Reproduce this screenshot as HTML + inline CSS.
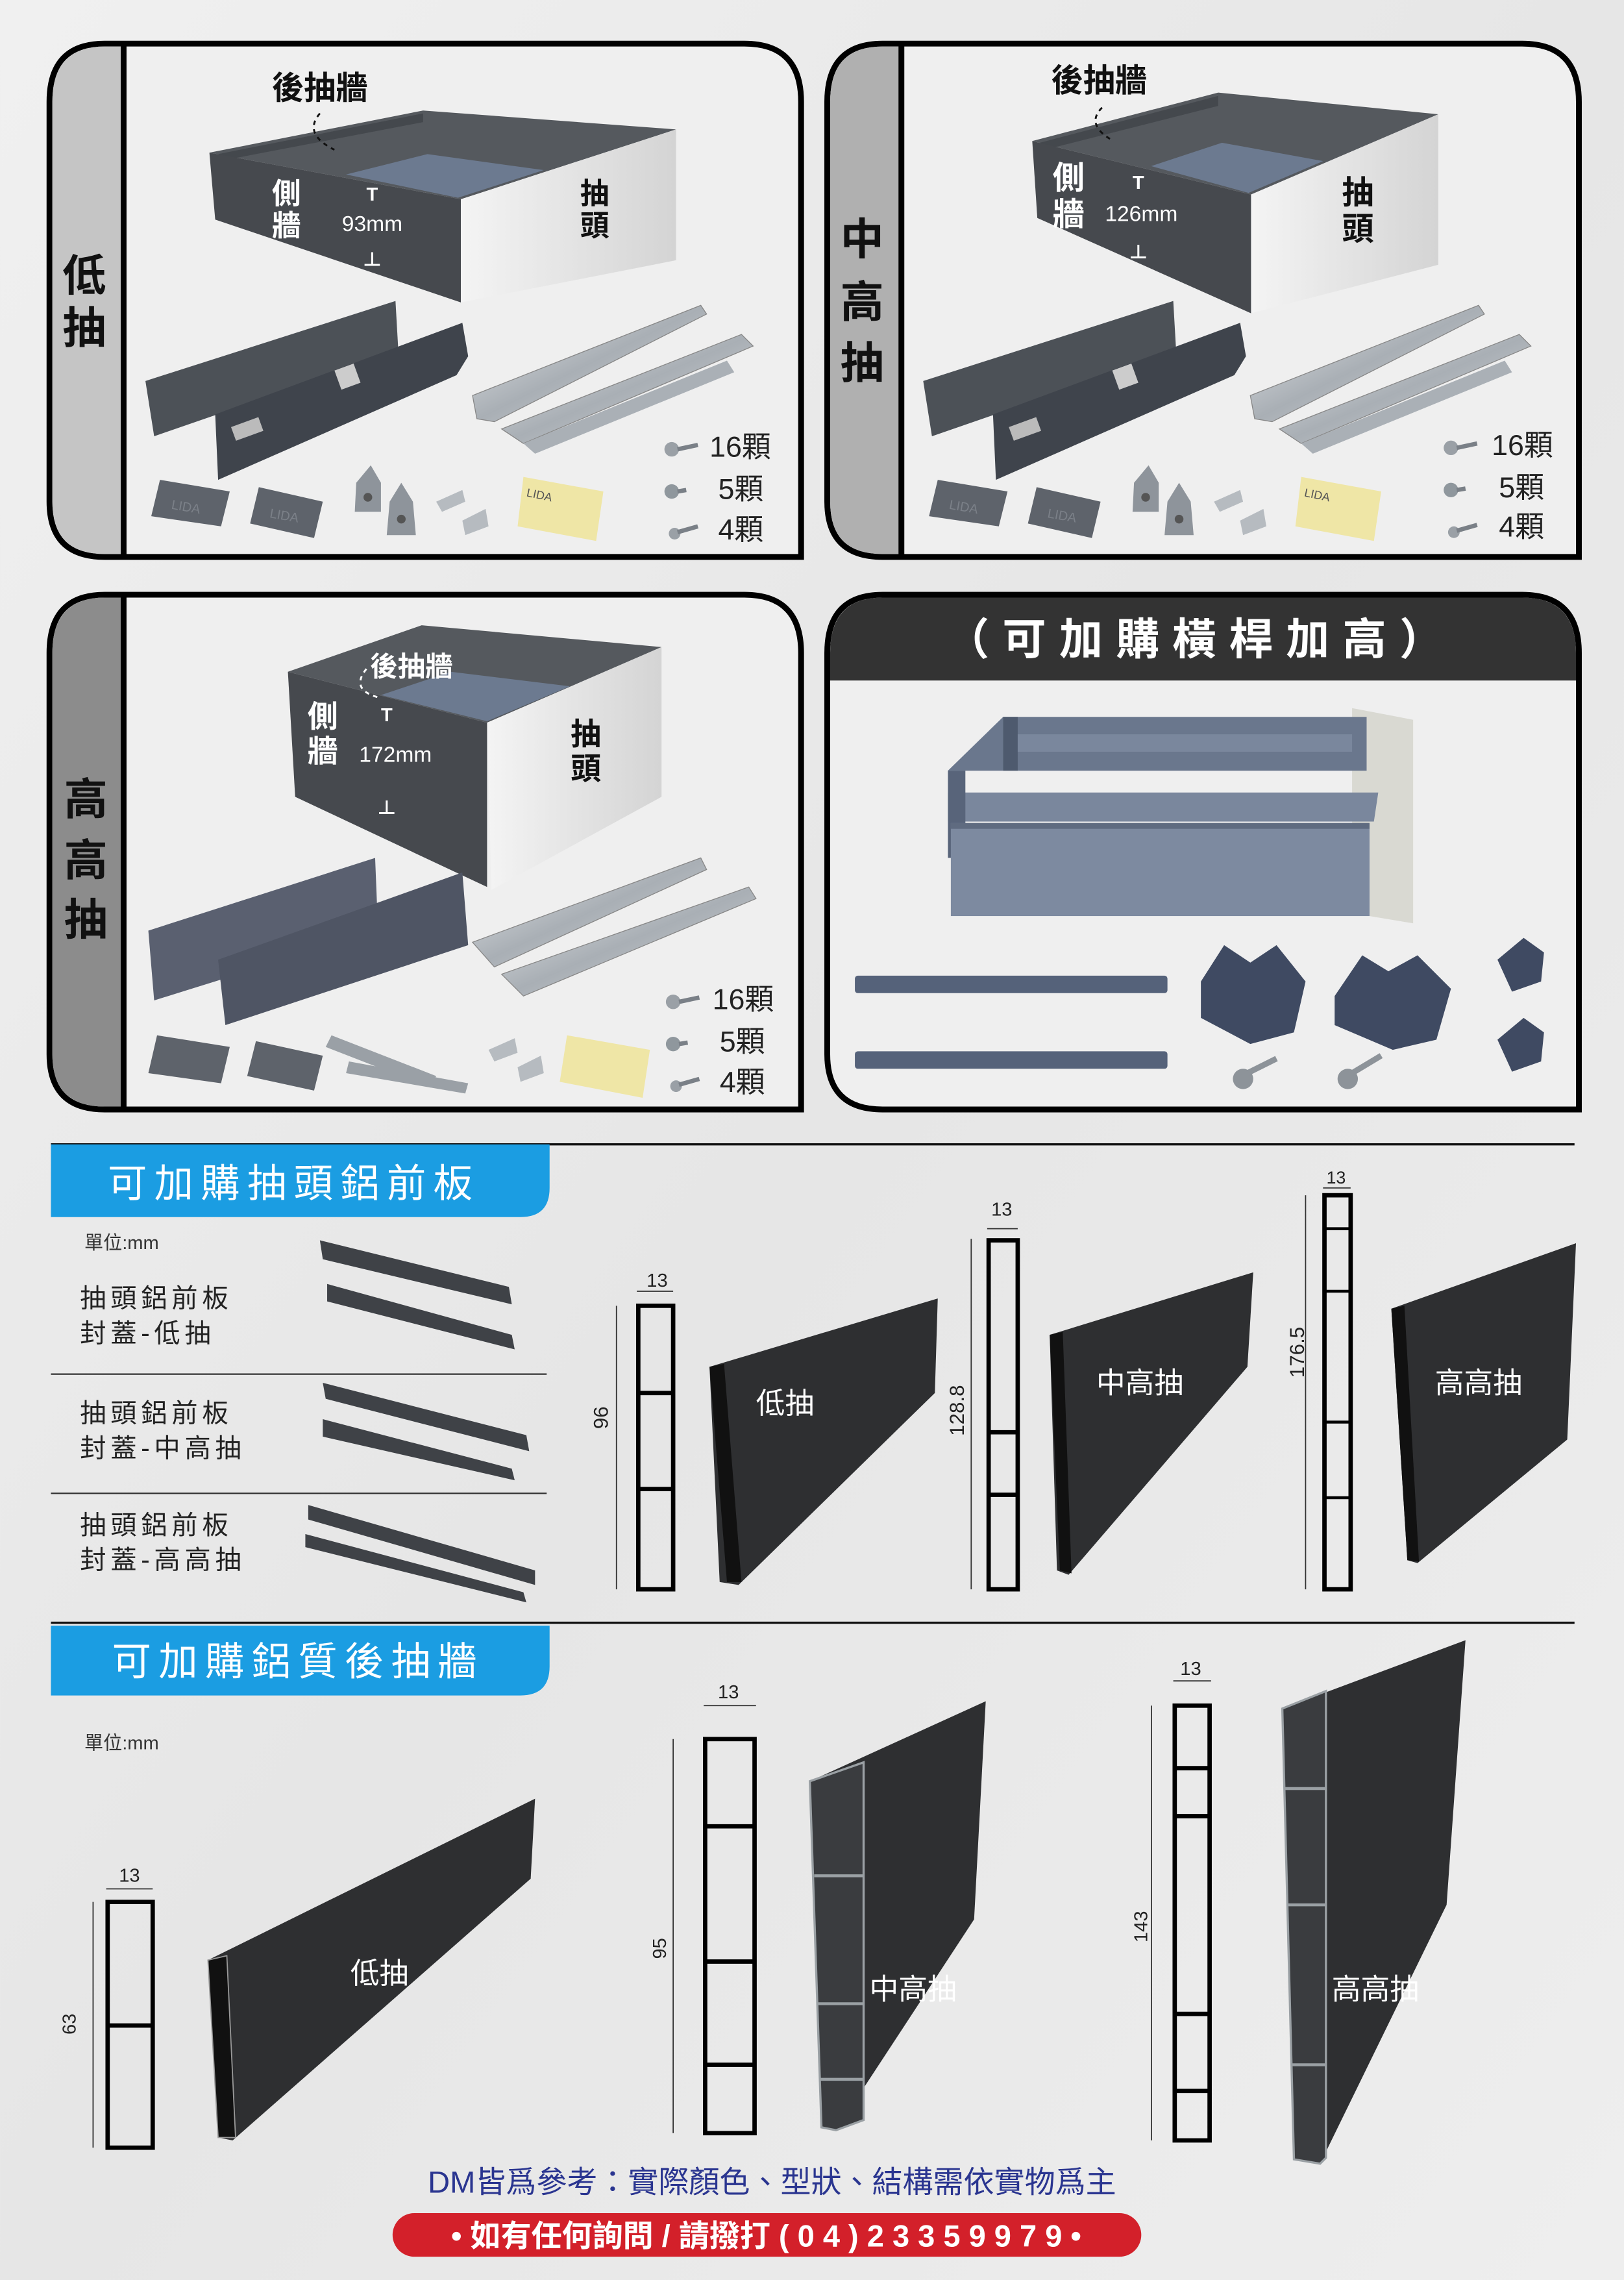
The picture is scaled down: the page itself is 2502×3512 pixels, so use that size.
<!DOCTYPE html>
<html><head><meta charset="utf-8"><style>
html,body{margin:0;padding:0;background:#ececec;}
svg{display:block}
text{font-family:"Liberation Sans","Noto Sans CJK TC",sans-serif;}
</style></head><body>
<svg width="2502" height="3512" viewBox="0 0 1117 1568" xmlns="http://www.w3.org/2000/svg">
<defs>
<linearGradient id="bg" x1="0" y1="0" x2="1" y2="1"><stop offset="0" stop-color="#f0f0f0"/><stop offset="0.5" stop-color="#e6e6e6"/><stop offset="1" stop-color="#eeeeee"/></linearGradient>
<linearGradient id="wf" x1="0" y1="0" x2="1" y2="0"><stop offset="0" stop-color="#f4f4f4"/><stop offset="1" stop-color="#d4d4d4"/></linearGradient>
<linearGradient id="sl" x1="0" y1="0" x2="1" y2="1"><stop offset="0" stop-color="#e8eaec"/><stop offset="0.5" stop-color="#a9afb5"/><stop offset="1" stop-color="#d8dadc"/></linearGradient>
<g id="drawer">
  <polygon points="144,105 291,76 465,89 317,137" fill="#55595e"/>
  <polygon points="150,106 291,78 291,84 155,110" fill="#44484d"/>
  <polygon points="238,120 294,106 374,117 315,136" fill="#6c7a90"/>
  <polygon points="144,105 317,137 317,208 148,151" fill="#46494e"/>
  <polygon points="317,137 465,89 465,179 317,208" fill="url(#wf)"/>
</g>
<g id="kit">
  <polygon points="100,262 272,207 274,242 106,300" fill="#4c5157"/>
  <polygon points="148,285 318,222 322,245 314,258 150,330" fill="#3f444c"/>
  <rect x="232" y="252" width="14" height="14" fill="#ccc" transform="rotate(-20 239 259)"/>
  <rect x="160" y="290" width="20" height="10" fill="#bbb" transform="rotate(-20 170 295)"/>
  <polygon points="325,272 482,210 486,216 340,290 328,288" fill="url(#sl)" stroke="#888" stroke-width="0.6"/>
  <polygon points="345,295 510,230 518,238 360,305" fill="url(#sl)" stroke="#888" stroke-width="0.6"/>
  <polygon points="360,305 500,248 505,256 368,312" fill="#aab0b6"/>
  <polygon points="110,330 158,338 152,362 104,355" fill="#5e636b"/>
  <text x="118" y="352" font-size="9" fill="#7b8088" transform="rotate(10 130 348)">LIDA</text>
  <polygon points="178,335 222,345 216,370 172,360" fill="#5e636b"/>
  <text x="186" y="358" font-size="9" fill="#7b8088" transform="rotate(10 198 352)">LIDA</text>
  <polygon points="245,332 255,320 262,332 262,352 244,352" fill="#8e949b"/>
  <polygon points="268,345 276,332 284,345 286,368 266,368" fill="#8e949b"/>
  <circle cx="253" cy="342" r="3" fill="#555"/><circle cx="276" cy="357" r="3" fill="#555"/>
  <polygon points="300,345 318,337 320,345 304,352" fill="#b6bbc0"/>
  <polygon points="318,358 334,350 336,362 320,368" fill="#b6bbc0"/>
  <polygon points="360,328 415,338 410,372 356,362" fill="#efe6a6"/>
  <text x="362" y="345" font-size="8" fill="#555" transform="rotate(12 380 342)">LIDA</text>
</g>
<g id="screws">
  <circle cx="0" cy="0" r="5" fill="#9aa0a6"/><line x1="4" y1="0" x2="18" y2="-3" stroke="#7a8087" stroke-width="3"/>
  <circle cx="0" cy="29" r="5" fill="#8f979d"/><line x1="4" y1="29" x2="10" y2="28" stroke="#7a8087" stroke-width="3"/>
  <circle cx="2" cy="58" r="4" fill="#9aa0a6"/><line x1="4" y1="57" x2="18" y2="53" stroke="#7a8087" stroke-width="3"/>
</g>
</defs>
<rect width="1117" height="1568" fill="url(#bg)"/>

<!-- ===== Panel 1 ===== -->
<path d="M72,30 H512 Q551,30 551,70 V383 H72 Q34,383 34,345 V70 Q34,30 72,30Z" fill="#efefef" stroke="#000" stroke-width="4"/>
<path d="M72,32 H84 V381 H72 Q36,381 36,345 V70 Q36,32 72,32Z" fill="#c5c5c5"/>
<line x1="85" y1="30" x2="85" y2="383" stroke="#000" stroke-width="4"/>
<text x="58" y="200" font-size="30" font-weight="bold" text-anchor="middle" fill="#111">低</text>
<text x="58" y="236" font-size="30" font-weight="bold" text-anchor="middle" fill="#111">抽</text>
<use href="#drawer"/>
<text x="220" y="68" font-size="22" font-weight="bold" text-anchor="middle" fill="#111">後抽牆</text>
<path d="M220,78 Q208,92 230,103" fill="none" stroke="#111" stroke-width="1.3" stroke-dasharray="3,3"/>
<text x="197" y="140" font-size="20" font-weight="bold" text-anchor="middle" fill="#fff">側</text>
<text x="197" y="162" font-size="20" font-weight="bold" text-anchor="middle" fill="#fff">牆</text>
<text x="256" y="138" font-size="13" font-weight="bold" text-anchor="middle" fill="#fff">T</text>
<text x="256" y="159" font-size="15" text-anchor="middle" fill="#fff">93mm</text>
<text x="256" y="183" font-size="13" font-weight="bold" text-anchor="middle" fill="#fff">⊥</text>
<text x="409" y="140" font-size="20" font-weight="bold" text-anchor="middle" fill="#111">抽</text>
<text x="409" y="162" font-size="20" font-weight="bold" text-anchor="middle" fill="#111">頭</text>
<use href="#kit"/>
<use href="#screws" x="462" y="309"/>
<text x="488" y="314" font-size="20" fill="#222">16顆</text>
<text x="494" y="343" font-size="20" fill="#222">5顆</text>
<text x="494" y="371" font-size="20" fill="#222">4顆</text>

<!-- ===== Panel 2 ===== -->
<path d="M607,30 H1047 Q1086,30 1086,70 V383 H607 Q569,383 569,345 V70 Q569,30 607,30Z" fill="#efefef" stroke="#000" stroke-width="4"/>
<path d="M607,32 H619 V381 H607 Q571,381 571,345 V70 Q571,32 607,32Z" fill="#b0b0b0"/>
<line x1="620" y1="30" x2="620" y2="383" stroke="#000" stroke-width="4"/>
<text x="593" y="175" font-size="30" font-weight="bold" text-anchor="middle" fill="#111">中</text>
<text x="593" y="218" font-size="30" font-weight="bold" text-anchor="middle" fill="#111">高</text>
<text x="593" y="260" font-size="30" font-weight="bold" text-anchor="middle" fill="#111">抽</text>
<g transform="translate(710,97) scale(0.87,1.15) translate(-144,-105)"><use href="#drawer"/></g>
<text x="756" y="63" font-size="22" font-weight="bold" text-anchor="middle" fill="#111">後抽牆</text>
<path d="M758,74 Q746,86 766,97" fill="none" stroke="#111" stroke-width="1.3" stroke-dasharray="3,3"/>
<text x="735" y="130" font-size="22" font-weight="bold" text-anchor="middle" fill="#fff">側</text>
<text x="735" y="155" font-size="22" font-weight="bold" text-anchor="middle" fill="#fff">牆</text>
<text x="783" y="130" font-size="13" font-weight="bold" text-anchor="middle" fill="#fff">T</text>
<text x="785" y="152" font-size="15" text-anchor="middle" fill="#fff">126mm</text>
<text x="783" y="178" font-size="13" font-weight="bold" text-anchor="middle" fill="#fff">⊥</text>
<text x="934" y="140" font-size="22" font-weight="bold" text-anchor="middle" fill="#111">抽</text>
<text x="934" y="165" font-size="22" font-weight="bold" text-anchor="middle" fill="#111">頭</text>
<use href="#kit" x="535" y="0"/>
<use href="#screws" x="998" y="308"/>
<text x="1026" y="313" font-size="20" fill="#222">16顆</text>
<text x="1031" y="342" font-size="20" fill="#222">5顆</text>
<text x="1031" y="369" font-size="20" fill="#222">4顆</text>

<!-- ===== Panel 3 ===== -->
<path d="M72,409 H512 Q551,409 551,449 V763 H72 Q34,763 34,725 V449 Q34,409 72,409Z" fill="#efefef" stroke="#000" stroke-width="4"/>
<path d="M72,411 H84 V761 H72 Q36,761 36,725 V449 Q36,411 72,411Z" fill="#8c8c8c"/>
<line x1="85" y1="409" x2="85" y2="763" stroke="#000" stroke-width="4"/>
<text x="59" y="560" font-size="30" font-weight="bold" text-anchor="middle" fill="#111">高</text>
<text x="59" y="602" font-size="30" font-weight="bold" text-anchor="middle" fill="#111">高</text>
<text x="59" y="643" font-size="30" font-weight="bold" text-anchor="middle" fill="#111">抽</text>
<polygon points="198,462 290,430 455,445 335,497" fill="#55595e"/>
<polygon points="262,478 310,462 392,472 335,496" fill="#6c7a90"/>
<polygon points="198,462 335,497 335,610 203,548" fill="#46494e"/>
<polygon points="335,497 455,445 455,548 338,612" fill="url(#wf)"/>
<text x="283" y="465" font-size="19" font-weight="bold" text-anchor="middle" fill="#fff">後抽牆</text>
<path d="M252,460 Q240,475 262,480" fill="none" stroke="#fff" stroke-width="1.3" stroke-dasharray="3,3"/>
<text x="222" y="500" font-size="21" font-weight="bold" text-anchor="middle" fill="#fff">側</text>
<text x="222" y="524" font-size="21" font-weight="bold" text-anchor="middle" fill="#fff">牆</text>
<text x="266" y="496" font-size="13" font-weight="bold" text-anchor="middle" fill="#fff">T</text>
<text x="272" y="524" font-size="15" text-anchor="middle" fill="#fff">172mm</text>
<text x="266" y="560" font-size="13" font-weight="bold" text-anchor="middle" fill="#fff">⊥</text>
<text x="403" y="512" font-size="21" font-weight="bold" text-anchor="middle" fill="#111">抽</text>
<text x="403" y="536" font-size="21" font-weight="bold" text-anchor="middle" fill="#111">頭</text>
<polygon points="102,640 258,590 260,640 106,688" fill="#5a6070"/>
<polygon points="150,660 318,600 322,650 155,705" fill="#4f5564"/>
<polygon points="325,648 482,590 486,598 340,665" fill="url(#sl)" stroke="#888" stroke-width="0.6"/>
<polygon points="345,670 515,610 520,618 360,685" fill="url(#sl)" stroke="#888" stroke-width="0.6"/>
<polygon points="108,712 158,720 152,745 102,738" fill="#5e636b"/>
<polygon points="176,716 222,726 216,750 170,740" fill="#5e636b"/>
<polygon points="228,712 300,740 296,748 224,720" fill="#9aa0a6"/>
<polygon points="240,730 322,745 320,752 238,738" fill="#9aa0a6"/>
<polygon points="336,722 354,714 356,724 340,730" fill="#b6bbc0"/>
<polygon points="356,734 372,726 374,738 358,744" fill="#b6bbc0"/>
<polygon points="390,712 447,722 442,755 385,744" fill="#efe6a6"/>
<use href="#screws" x="463" y="689"/>
<text x="490" y="694" font-size="20" fill="#222">16顆</text>
<text x="495" y="723" font-size="20" fill="#222">5顆</text>
<text x="495" y="751" font-size="20" fill="#222">4顆</text>

<!-- ===== Panel 4 ===== -->
<path d="M607,409 H1047 Q1086,409 1086,449 V763 H607 Q569,763 569,725 V449 Q569,409 607,409Z" fill="#efefef" stroke="#000" stroke-width="4"/>
<path d="M607,411 H1047 Q1084,411 1084,449 V468 H571 V449 Q571,411 607,411Z" fill="#333333"/>
<text x="826" y="450" font-size="30" font-weight="bold" text-anchor="middle" fill="#fff" letter-spacing="9">（可加購橫桿加高）</text>
<polygon points="930,487 972,495 972,635 930,628" fill="#d9d9d2"/>
<polygon points="652,530 690,493 940,493 940,530" fill="#6a778d"/>
<polygon points="652,545 948,545 945,565 652,565" fill="#7a879d"/>
<rect x="652" y="530" width="12" height="60" fill="#58647a"/>
<polygon points="690,493 700,493 700,530 690,530" fill="#4e5a6e"/>
<rect x="700" y="505" width="230" height="12" fill="#7a879d"/>
<rect x="654" y="566" width="288" height="64" fill="#7d8aa0"/>
<rect x="654" y="566" width="288" height="4" fill="#5f6b80"/>
<rect x="588" y="671" width="215" height="12" rx="2" fill="#55627a"/>
<rect x="588" y="723" width="215" height="12" rx="2" fill="#55627a"/>
<polygon points="826,675 842,650 860,662 878,650 898,675 890,710 860,718 826,700" fill="#3f4a62"/>
<polygon points="918,685 937,657 955,668 975,657 998,680 988,715 958,722 918,705" fill="#3f4a62"/>
<polygon points="1030,660 1048,645 1062,655 1060,675 1040,682" fill="#3f4a62"/>
<polygon points="1030,715 1048,700 1062,710 1060,730 1040,737" fill="#3f4a62"/>
<circle cx="855" cy="742" r="7" fill="#8d9399"/><line x1="858" y1="738" x2="878" y2="728" stroke="#8d9399" stroke-width="4"/>
<circle cx="927" cy="742" r="7" fill="#8d9399"/><line x1="930" y1="738" x2="950" y2="726" stroke="#8d9399" stroke-width="4"/>

<!-- ===== Section: front plate ===== -->
<line x1="35" y1="787" x2="1083" y2="787" stroke="#111" stroke-width="1.5"/>
<path d="M35,787 H378 V817 Q378,837 358,837 H35Z" fill="#1b9de2"/>
<text x="202" y="823" font-size="27" text-anchor="middle" fill="#fff" letter-spacing="5">可加購抽頭鋁前板</text>
<text x="58" y="859" font-size="13" fill="#333">單位:mm</text>
<text x="55" y="899" font-size="18" fill="#222" letter-spacing="3">抽頭鋁前板</text>
<text x="55" y="923" font-size="18" fill="#222" letter-spacing="3">封蓋-低抽</text>
<line x1="35" y1="945" x2="376" y2="945" stroke="#333" stroke-width="1"/>
<text x="55" y="978" font-size="18" fill="#222" letter-spacing="3">抽頭鋁前板</text>
<text x="55" y="1002" font-size="18" fill="#222" letter-spacing="3">封蓋-中高抽</text>
<line x1="35" y1="1027" x2="376" y2="1027" stroke="#333" stroke-width="1"/>
<text x="55" y="1055" font-size="18" fill="#222" letter-spacing="3">抽頭鋁前板</text>
<text x="55" y="1079" font-size="18" fill="#222" letter-spacing="3">封蓋-高高抽</text>
<polygon points="220,853 350,885 352,897 222,866" fill="#3f4247"/>
<polygon points="225,883 352,918 354,928 225,895" fill="#3f4247"/>
<polygon points="222,951 362,987 364,998 224,962" fill="#3f4247"/>
<polygon points="222,976 352,1010 354,1018 222,988" fill="#3f4247"/>
<polygon points="212,1035 368,1080 368,1090 212,1045" fill="#3f4247"/>
<polygon points="210,1055 360,1095 362,1102 210,1064" fill="#3f4247"/>

<line x1="438" y1="888" x2="463" y2="888" stroke="#333" stroke-width="0.8"/>
<text x="452" y="885" font-size="13" text-anchor="middle" fill="#222">13</text>
<line x1="424" y1="898" x2="424" y2="1093" stroke="#333" stroke-width="0.8"/>
<text x="418" y="975" font-size="14" text-anchor="middle" fill="#222" transform="rotate(-90 418 975)">96</text>
<rect x="439" y="898" width="24" height="195" fill="none" stroke="#000" stroke-width="3"/>
<line x1="439" y1="958" x2="463" y2="958" stroke="#000" stroke-width="3"/>
<line x1="439" y1="1024" x2="463" y2="1024" stroke="#000" stroke-width="3"/>
<polygon points="488,940 645,893 643,958 508,1090 495,1088" fill="#2e2f31"/>
<polygon points="488,940 498,938 510,1088 500,1088" fill="#111"/>
<text x="540" y="972" font-size="20" text-anchor="middle" fill="#fff">低抽</text>
<line x1="679" y1="845" x2="700" y2="845" stroke="#333" stroke-width="0.8"/>
<text x="689" y="836" font-size="13" text-anchor="middle" fill="#222">13</text>
<line x1="668" y1="852" x2="668" y2="1093" stroke="#333" stroke-width="0.8"/>
<text x="663" y="970" font-size="14" text-anchor="middle" fill="#222" transform="rotate(-90 663 970)">128.8</text>
<rect x="680" y="853" width="20" height="240" fill="none" stroke="#000" stroke-width="3"/>
<line x1="680" y1="985" x2="700" y2="985" stroke="#000" stroke-width="3"/>
<line x1="680" y1="1028" x2="700" y2="1028" stroke="#000" stroke-width="3"/>
<polygon points="722,918 862,875 858,940 735,1083 727,1080" fill="#2e2f31"/>
<polygon points="722,918 731,916 737,1082 729,1080" fill="#111"/>
<text x="784" y="958" font-size="20" text-anchor="middle" fill="#fff">中高抽</text>
<line x1="910" y1="817" x2="929" y2="817" stroke="#333" stroke-width="0.8"/>
<text x="919" y="814" font-size="12" text-anchor="middle" fill="#222">13</text>
<line x1="898" y1="822" x2="898" y2="1093" stroke="#333" stroke-width="0.8"/>
<text x="897" y="930" font-size="14" text-anchor="middle" fill="#222" transform="rotate(-90 897 930)">176.5</text>
<rect x="911" y="822" width="18" height="271" fill="none" stroke="#000" stroke-width="3"/>
<line x1="911" y1="845" x2="929" y2="845" stroke="#000" stroke-width="2"/>
<line x1="911" y1="888" x2="929" y2="888" stroke="#000" stroke-width="2"/>
<line x1="911" y1="978" x2="929" y2="978" stroke="#000" stroke-width="2"/>
<line x1="911" y1="1030" x2="929" y2="1030" stroke="#000" stroke-width="2"/>
<polygon points="957,900 1084,855 1078,990 975,1075 968,1073" fill="#2e2f31"/>
<polygon points="957,900 966,898 976,1074 968,1073" fill="#111"/>
<text x="1017" y="958" font-size="20" text-anchor="middle" fill="#fff">高高抽</text>

<!-- ===== Section: back wall ===== -->
<line x1="35" y1="1116" x2="1083" y2="1116" stroke="#111" stroke-width="1.5"/>
<path d="M35,1118 H378 V1146 Q378,1166 358,1166 H35Z" fill="#1b9de2"/>
<text x="205" y="1152" font-size="27" text-anchor="middle" fill="#fff" letter-spacing="5">可加購鋁質後抽牆</text>
<text x="58" y="1203" font-size="13" fill="#333">單位:mm</text>
<line x1="73" y1="1299" x2="105" y2="1299" stroke="#333" stroke-width="0.8"/>
<text x="89" y="1294" font-size="13" text-anchor="middle" fill="#222">13</text>
<line x1="64" y1="1308" x2="64" y2="1477" stroke="#333" stroke-width="0.8"/>
<text x="52" y="1392" font-size="13" text-anchor="middle" fill="#222" transform="rotate(-90 52 1392)">63</text>
<rect x="74" y="1308" width="31" height="169" fill="none" stroke="#000" stroke-width="3"/>
<line x1="74" y1="1393" x2="105" y2="1393" stroke="#000" stroke-width="3"/>
<polygon points="143,1348 368,1237 365,1292 160,1472 150,1470" fill="#2e2f31"/>
<polygon points="143,1348 156,1345 162,1470 150,1470" fill="#111" stroke="#999" stroke-width="0.8"/>
<text x="261" y="1364" font-size="20" text-anchor="middle" fill="#fff">低抽</text>
<line x1="484" y1="1173" x2="520" y2="1173" stroke="#333" stroke-width="0.8"/>
<text x="501" y="1168" font-size="13" text-anchor="middle" fill="#222">13</text>
<line x1="463" y1="1196" x2="463" y2="1467" stroke="#333" stroke-width="0.8"/>
<text x="458" y="1340" font-size="13" text-anchor="middle" fill="#222" transform="rotate(-90 458 1340)">95</text>
<rect x="485" y="1196" width="34" height="271" fill="none" stroke="#000" stroke-width="3"/>
<line x1="485" y1="1256" x2="519" y2="1256" stroke="#000" stroke-width="3"/>
<line x1="485" y1="1349" x2="519" y2="1349" stroke="#000" stroke-width="3"/>
<line x1="485" y1="1420" x2="519" y2="1420" stroke="#000" stroke-width="3"/>
<polygon points="557,1225 678,1170 670,1320 575,1465 565,1463" fill="#2e2f31"/>
<polygon points="557,1225 594,1212 594,1458 575,1465 565,1463" fill="#3a3c3f" stroke="#9aa0a4" stroke-width="1.5"/>
<line x1="560" y1="1290" x2="594" y2="1290" stroke="#9aa0a4" stroke-width="2"/>
<line x1="562" y1="1378" x2="594" y2="1378" stroke="#9aa0a4" stroke-width="2"/>
<line x1="564" y1="1430" x2="594" y2="1430" stroke="#9aa0a4" stroke-width="2"/>
<text x="628" y="1375" font-size="20" text-anchor="middle" fill="#fff">中高抽</text>
<line x1="807" y1="1156" x2="833" y2="1156" stroke="#333" stroke-width="0.8"/>
<text x="819" y="1152" font-size="13" text-anchor="middle" fill="#222">13</text>
<line x1="792" y1="1173" x2="792" y2="1472" stroke="#333" stroke-width="0.8"/>
<text x="789" y="1325" font-size="13" text-anchor="middle" fill="#222" transform="rotate(-90 789 1325)">143</text>
<rect x="808" y="1173" width="24" height="299" fill="none" stroke="#000" stroke-width="3"/>
<line x1="808" y1="1216" x2="832" y2="1216" stroke="#000" stroke-width="3"/>
<line x1="808" y1="1249" x2="832" y2="1249" stroke="#000" stroke-width="3"/>
<line x1="808" y1="1385" x2="832" y2="1385" stroke="#000" stroke-width="3"/>
<line x1="808" y1="1438" x2="832" y2="1438" stroke="#000" stroke-width="3"/>
<polygon points="882,1175 1008,1128 995,1310 908,1488 890,1485" fill="#2e2f31"/>
<polygon points="882,1175 912,1163 912,1484 908,1488 890,1485" fill="#3a3c3f" stroke="#9aa0a4" stroke-width="1.5"/>
<line x1="884" y1="1230" x2="912" y2="1230" stroke="#9aa0a4" stroke-width="2"/>
<line x1="886" y1="1310" x2="912" y2="1310" stroke="#9aa0a4" stroke-width="2"/>
<line x1="888" y1="1420" x2="912" y2="1420" stroke="#9aa0a4" stroke-width="2"/>
<text x="946" y="1375" font-size="20" text-anchor="middle" fill="#fff">高高抽</text>

<text x="531" y="1508" font-size="21" text-anchor="middle" fill="#2a3590">DM皆爲參考：實際顏色、型狀、結構需依實物爲主</text>
<rect x="270" y="1522" width="515" height="30" rx="15" fill="#d3202a"/>
<text x="527" y="1545" font-size="21" font-weight="bold" text-anchor="middle" fill="#fff">• 如有任何詢問 / 請撥打 ( 0 4 ) 2 3 3 5 9 9 7 9 •</text>
</svg>
</body></html>
